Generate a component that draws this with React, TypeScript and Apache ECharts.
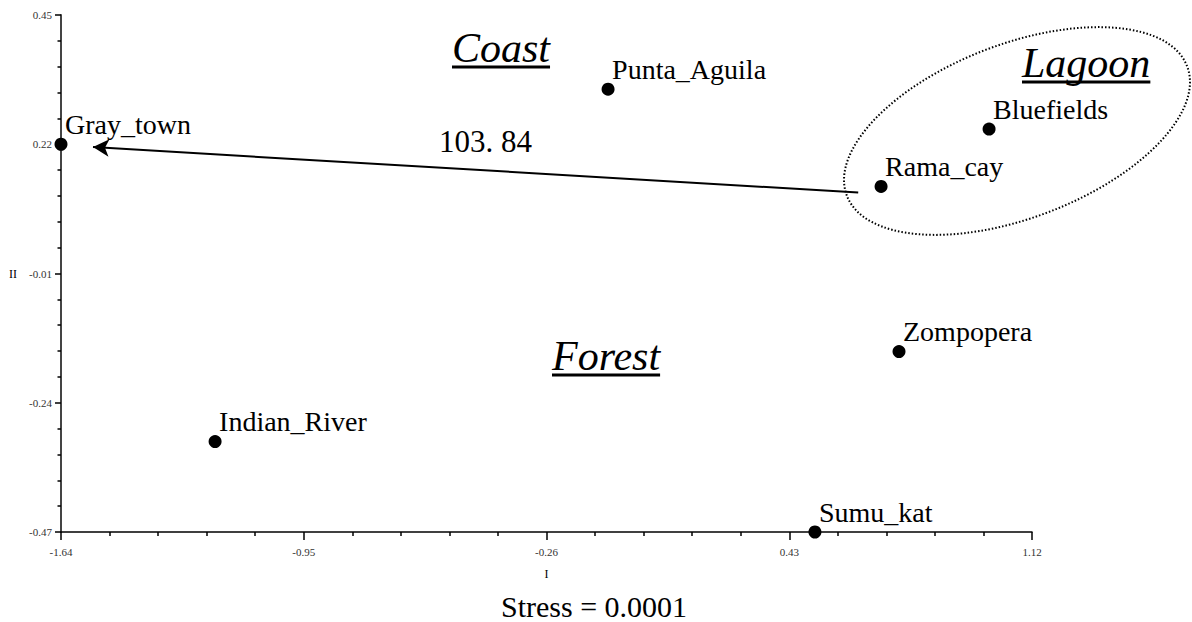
import { useEffect, useRef } from "react";
import * as echarts from "echarts";

// ---- data ----
const sites = ["Gray_town", "Punta_Aguila", "Bluefields", "Rama_cay", "Zompopera", "Indian_River", "Sumu_kat"];
const dimI = [-1.64, -0.085, 0.998, 0.691, 0.742, -1.202, 0.503];
const dimII = [0.22, 0.318, 0.247, 0.145, -0.149, -0.309, -0.47];
const xTickLabels = [-1.64, -0.95, -0.26, 0.43, 1.12];
const yTickLabels = [-0.47, -0.24, -0.01, 0.22, 0.45];
const arrowFrom = [0.626, 0.134];
const arrowTo = [-1.549, 0.215];
const arrowText = "103. 84";
const stressText = "Stress = 0.0001";
const groupNames = ["Coast", "Lagoon", "Forest"];

const SERIF = "Liberation Serif, Times New Roman, serif";

const X0 = xTickLabels[0];
const XSTEP = +(xTickLabels[1] - xTickLabels[0]).toFixed(2);
const XSPAN = +(xTickLabels[xTickLabels.length - 1] - xTickLabels[0]).toFixed(2);
const Y0 = yTickLabels[0];
const YSTEP = +(yTickLabels[1] - yTickLabels[0]).toFixed(2);
const YSPAN = +(yTickLabels[yTickLabels.length - 1] - yTickLabels[0]).toFixed(2);

function measure(text: string, font: string): number {
  const c = document.createElement("canvas").getContext("2d");
  if (!c) return text.length * 20;
  c.font = font;
  return c.measureText(text).width;
}

function underlinedTitle(text: string, left: number, baseline: number, fs: number) {
  const w = measure(text, `italic ${fs}px ${SERIF}`);
  return {
    type: "group",
    silent: true,
    children: [
      {
        type: "text",
        x: left,
        y: baseline - 0.3375 * fs,
        style: {
          text,
          fontFamily: SERIF,
          fontSize: fs,
          fontStyle: "italic",
          fill: "#000",
          align: "left",
          verticalAlign: "middle",
        },
      },
      {
        type: "rect",
        shape: { x: left, y: baseline + 3.5, width: w, height: 3 },
        style: { fill: "#000" },
      },
    ],
  };
}

export default function App() {
  const ref = useRef<HTMLDivElement>(null);
  useEffect(() => {
    if (!ref.current) return;
    const chart = echarts.init(ref.current, null, { renderer: "svg" });
    const points = sites.map((s, i) => ({ name: s, value: [dimI[i] - X0, dimII[i] - Y0] }));
    const option: any = {
      animation: false,
      textStyle: { fontFamily: SERIF },
      grid: { left: 61, right: 160, top: 15, bottom: 90, outerBoundsMode: "none" },
      xAxis: {
        type: "value",
        min: 0,
        max: XSPAN,
        interval: XSTEP,
        name: "I",
        nameLocation: "middle",
        nameGap: 36,
        nameTextStyle: { fontFamily: SERIF, fontSize: 12, color: "#000" },
        axisLine: { onZero: false, lineStyle: { color: "#000", width: 1.5 } },
        axisTick: { length: 8, lineStyle: { color: "#000", width: 1.5 } },
        minorTick: { show: true, splitNumber: 5, length: 4, lineStyle: { color: "#000", width: 1.5 } },
        axisLabel: {
          formatter: (v: number) => (v + X0).toFixed(2),
          fontFamily: SERIF,
          fontSize: 11,
          color: "#333",
          margin: 14,
        },
        splitLine: { show: false },
      },
      yAxis: {
        type: "value",
        min: 0,
        max: YSPAN,
        interval: YSTEP,
        name: "II",
        nameLocation: "middle",
        nameGap: 44,
        nameRotate: 0,
        nameTextStyle: { fontFamily: SERIF, fontSize: 12, color: "#000" },
        axisLine: { onZero: false, lineStyle: { color: "#444", width: 2 } },
        axisTick: { length: 6, lineStyle: { color: "#000", width: 1.5 } },
        minorTick: { show: true, splitNumber: 5, length: 3.5, lineStyle: { color: "#000", width: 1.5 } },
        axisLabel: {
          formatter: (v: number) => (v + Y0).toFixed(2),
          fontFamily: SERIF,
          fontSize: 11,
          color: "#333",
          margin: 9,
        },
        splitLine: { show: false },
      },
      series: [
        {
          type: "scatter",
          data: points,
          symbol: "circle",
          symbolSize: 13,
          itemStyle: { color: "#000", opacity: 1 },
          emphasis: { disabled: true },
          label: {
            show: true,
            formatter: "{b}",
            position: [10.5, -13.2],
            align: "left",
            verticalAlign: "middle",
            fontFamily: SERIF,
            fontSize: 28,
            color: "#000",
          },
          markLine: {
            silent: true,
            symbol: ["none", "arrow"],
            symbolSize: [13, 16],
            label: { show: false },
            lineStyle: { color: "#000", width: 2, type: "solid", opacity: 1 },
            emphasis: { disabled: true },
            data: [
              [
                { coord: [arrowFrom[0] - X0, arrowFrom[1] - Y0] },
                { coord: [arrowTo[0] - X0, arrowTo[1] - Y0] },
              ],
            ],
          },
          z: 3,
        },
      ],
      graphic: [
        {
          type: "ellipse",
          silent: true,
          x: 1017,
          y: 131,
          rotation: (20.8 * Math.PI) / 180,
          shape: { cx: 0, cy: 0, rx: 182, ry: 87 },
          style: { fill: "none", stroke: "#000", lineWidth: 2, lineDash: [1.5, 2] },
        },
        underlinedTitle(groupNames[0], 452, 62, 42),
        underlinedTitle(groupNames[1], 1022, 77, 42),
        underlinedTitle(groupNames[2], 552, 370, 42),
        {
          type: "text",
          silent: true,
          x: 485.5,
          y: 152 - 0.3375 * 31,
          style: {
            text: arrowText,
            fontFamily: SERIF,
            fontSize: 31,
            fill: "#000",
            align: "center",
            verticalAlign: "middle",
          },
        },
        {
          type: "text",
          silent: true,
          x: 501,
          y: 617 - 0.3375 * 30,
          style: {
            text: stressText,
            fontFamily: SERIF,
            fontSize: 30,
            fill: "#000",
            align: "left",
            verticalAlign: "middle",
          },
        },
      ],
    };
    chart.setOption(option);
    return () => chart.dispose();
  }, []);
  return (
    <div
      ref={ref}
      style={{ position: "fixed", left: 0, top: 0, width: 1192, height: 622, background: "#fff" }}
    />
  );
}
